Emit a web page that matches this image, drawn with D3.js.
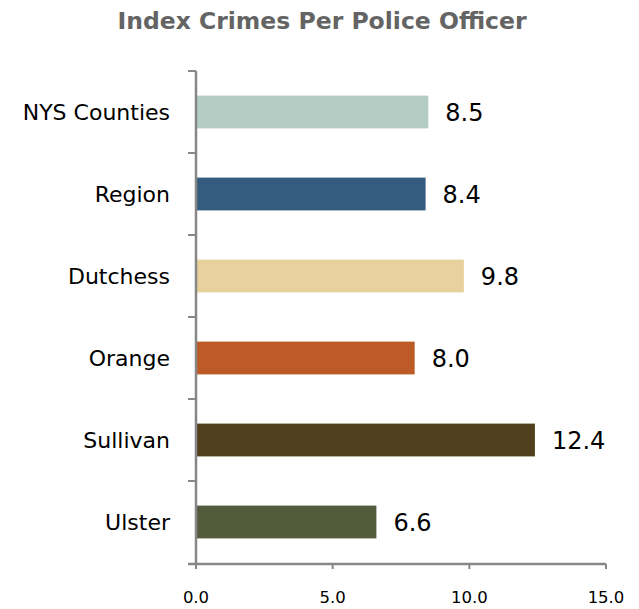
<!DOCTYPE html>
<html><head><meta charset="utf-8">
<script src="https://cdn.jsdelivr.net/npm/d3@7"></script>
<style>body{margin:0;background:#fff}svg{display:block}</style>
</head><body>
<script>
const categories = ["NYS Counties","Region","Dutchess","Orange","Sullivan","Ulster"];
const values = [8.5, 8.4, 9.8, 8.0, 12.4, 6.6];
const colors = ["#b3cdc5","#335c7f","#e8d19d","#bc5b26","#513f1d","#545a3c"];
const ticks = [0, 5, 10, 15];
const title = "Index Crimes Per Police Officer";

const W = 639, H = 609;
const svg = d3.select("body").append("svg").attr("width", W).attr("height", H);
const font = "'DejaVu Sans', sans-serif";
const mLeft = 196, mRight = 606, mTop = 71, mBottom = 563;

const x = d3.scaleLinear().domain([0, 15]).range([mLeft, mRight]);
const y = d3.scaleBand().domain(categories).range([mTop, mBottom]).paddingInner(0.6).paddingOuter(0.3);
const yb = d3.scaleBand().domain(categories).range([mTop, mBottom]);

svg.append("text").attr("x", 322).attr("y", 29).attr("text-anchor", "middle")
  .attr("font-family", font).attr("font-weight", "bold").attr("font-size", 23.5)
  .attr("fill", "#646464").text(title);

svg.selectAll("rect.bar").data(categories).enter().append("rect")
  .attr("x", x(0)).attr("y", d => y(d))
  .attr("width", (d, i) => x(values[i]) - x(0)).attr("height", y.bandwidth())
  .attr("fill", (d, i) => colors[i]);

svg.selectAll("text.val").data(categories).enter().append("text")
  .attr("x", (d, i) => x(values[i]) + 17).attr("y", d => y(d) + y.bandwidth() / 2)
  .attr("dy", "0.36em").attr("font-family", font).attr("font-size", 24).attr("fill", "#000")
  .text((d, i) => values[i].toFixed(1));

// Y axis
const ya = svg.append("g");
ya.append("line").attr("x1", mLeft).attr("x2", mLeft).attr("y1", mTop).attr("y2", mBottom + 1)
  .attr("stroke", "#878787").attr("stroke-width", 2.5);
const yTicks = categories.map(d => yb(d));
ya.selectAll("line.t").data(yTicks).enter().append("line")
  .attr("x1", mLeft - 8).attr("x2", mLeft).attr("y1", d => d).attr("y2", d => d)
  .attr("stroke", "#878787").attr("stroke-width", 2);
ya.selectAll("text").data(categories).enter().append("text")
  .attr("x", 170).attr("y", d => yb(d) + yb.bandwidth() / 2).attr("dy", "0.36em")
  .attr("text-anchor", "end").attr("font-family", font).attr("font-size", 22).attr("fill", "#000")
  .text(d => d);

// X axis
const xa = svg.append("g");
xa.append("line").attr("x1", mLeft - 8).attr("x2", mRight).attr("y1", mBottom + 1).attr("y2", mBottom + 1)
  .attr("stroke", "#878787").attr("stroke-width", 2.5);
xa.selectAll("line.t").data(ticks).enter().append("line")
  .attr("x1", d => x(d)).attr("x2", d => x(d)).attr("y1", mBottom + 1).attr("y2", mBottom + 6)
  .attr("stroke", "#878787").attr("stroke-width", 2);
xa.selectAll("text").data(ticks).enter().append("text")
  .attr("x", d => x(d)).attr("y", 603).attr("text-anchor", "middle")
  .attr("font-family", font).attr("font-size", 16.5).attr("fill", "#000")
  .text(d => d.toFixed(1));
</script>
</body></html>
